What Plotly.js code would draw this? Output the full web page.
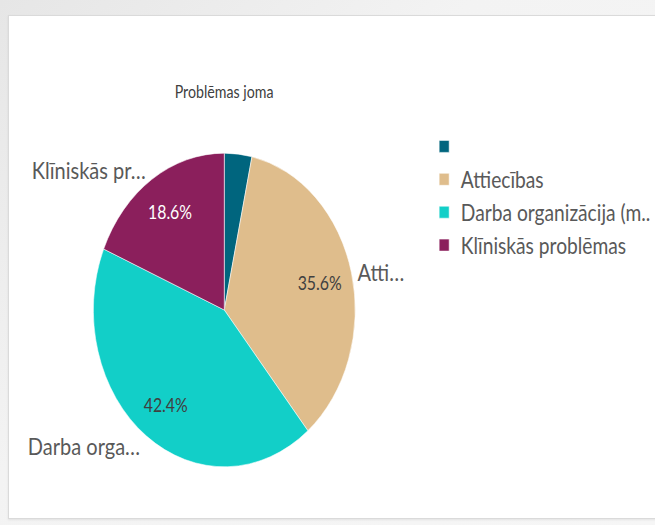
<!DOCTYPE html>
<html>
<head>
<meta charset="utf-8">
<script src="https://cdn.plot.ly/plotly-3.0.1.min.js"></script>
<style>
  html, body { margin:0; padding:0; width:655px; height:525px; overflow:hidden;
    background: linear-gradient(135deg, #e6e6e6 0%, #f3f3f3 40%, #f6f6f6 100%); font-family: Lato, sans-serif; }
  #panel { position:absolute; left:8px; top:15px; width:660px; height:502px; background:#fff;
    border:1px solid #dadada; box-shadow:0 1px 2px rgba(0,0,0,0.08); }
  #chart { position:absolute; left:0; top:0; width:784px; height:525px; transform:scaleX(0.835); transform-origin:0 0; }
</style>
</head>
<body>
<div id="panel"></div>
<div id="chart"></div>
<script>
// Data
const legendLabels = [' ', 'Attiecības', 'Darba organizācija (m..', 'Klīniskās problēmas'];
const outsideLabels = ['', 'Atti…', 'Darba orga…', 'Klīniskās pr…'];
const values = [2, 21, 25, 11];
const colors = ['#00657e', '#dfbd8c', '#12cfc8', '#8b1f5c'];
const pctTemplates = ['', '%{percent:.1%}', '%{percent:.1%}', '%{percent:.1%}'];
const pctColors = ['#ffffff', '#404040', '#404040', '#ffffff'];

const domain = { x: [0.1437, 0.5468], y: [0.1086, 0.7105] };
const fontFam = 'Lato, "Open Sans", sans-serif';
const clear = values.map(() => 'rgba(0,0,0,0)');

const common = {
  type: 'pie',
  labels: legendLabels,
  values: values,
  sort: false,
  direction: 'clockwise',
  rotation: 0,
  domain: domain
};

// Coloured slices + legend
const traceMain = Object.assign({}, common, {
  marker: { colors: colors, line: { color: '#ffffff', width: 0.6 } },
  textinfo: 'none',
  hoverinfo: 'label+percent',
  showlegend: true
});

// Percent labels (placed in the outer ring via an invisible hole trace)
const tracePct = Object.assign({}, common, {
  hole: 0.5,
  marker: { colors: clear, line: { width: 0 } },
  texttemplate: pctTemplates,
  textposition: 'inside',
  insidetextorientation: 'horizontal',
  insidetextfont: { family: fontFam, size: 19, color: pctColors },
  hoverinfo: 'skip',
  showlegend: false
});

// Outside category labels
const traceLabels = Object.assign({}, common, {
  marker: { colors: clear, line: { width: 0 } },
  text: outsideLabels,
  textinfo: 'text',
  textposition: 'outside',
  outsidetextfont: { family: fontFam, size: 24, color: '#595959' },
  hoverinfo: 'skip',
  showlegend: false
});

const layout = {
  width: 784,
  height: 525,
  margin: { l: 0, r: 0, t: 0, b: 0 },
  paper_bgcolor: 'rgba(0,0,0,0)',
  plot_bgcolor: 'rgba(0,0,0,0)',
  title: {
    text: 'Problēmas joma',
    x: 0.345, xanchor: 'center', xref: 'paper',
    y: 0.825, yanchor: 'middle', yref: 'container',
    font: { family: fontFam, size: 17, color: '#404040' }
  },
  showlegend: true,
  legend: {
    x: 0.658, xanchor: 'left',
    y: 0.762, yanchor: 'top',
    font: { family: fontFam, size: 23, color: '#595959' },
    bgcolor: 'rgba(0,0,0,0)'
  }
};

Plotly.newPlot('chart', [traceMain, tracePct, traceLabels], layout, { displayModeBar: false });
</script>
</body>
</html>
